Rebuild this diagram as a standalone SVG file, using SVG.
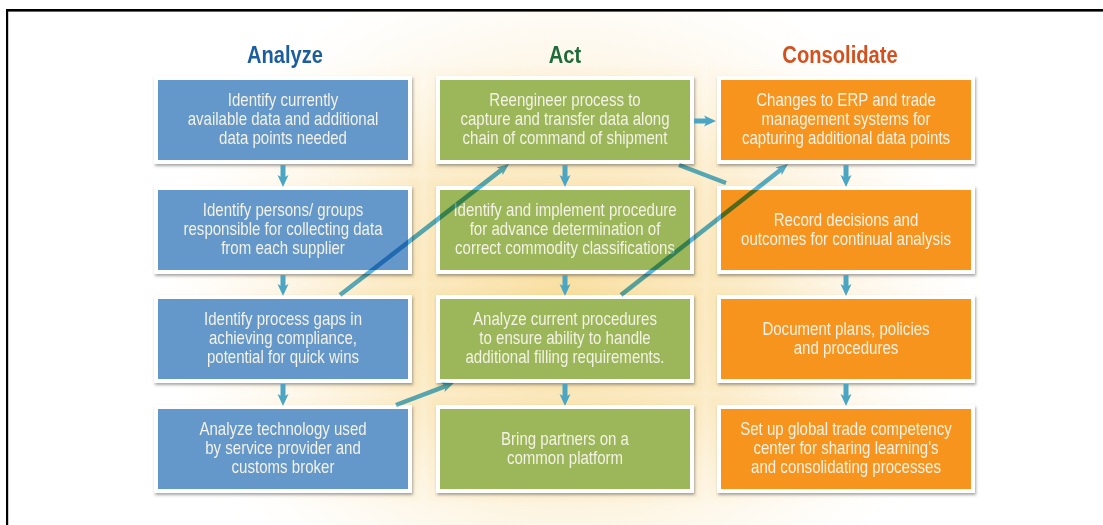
<svg xmlns="http://www.w3.org/2000/svg" width="1103" height="525" viewBox="0 0 1103 525">
  <defs>
    <radialGradient id="glow" gradientUnits="userSpaceOnUse" cx="565" cy="300" r="430" gradientTransform="translate(565 300) scale(1 0.85) translate(-565 -300)">
      <stop offset="0" stop-color="#f7d98f" stop-opacity="0.8"/>
      <stop offset="0.45" stop-color="#f9e0a8" stop-opacity="0.55"/>
      <stop offset="0.8" stop-color="#fdf0d6" stop-opacity="0.2"/>
      <stop offset="1" stop-color="#ffffff" stop-opacity="0"/>
    </radialGradient>
    <filter id="soft" x="-10%" y="-10%" width="120%" height="120%">
      <feGaussianBlur stdDeviation="2.5"/>
    </filter>
    <filter id="shadow" x="-5%" y="-5%" width="115%" height="120%">
      <feDropShadow dx="1" dy="2" stdDeviation="1.5" flood-color="#3a3a3a" flood-opacity="0.45"/>
    </filter>
    <marker id="head" markerUnits="userSpaceOnUse" markerWidth="12" markerHeight="12" viewBox="0 0 12 12" refX="4" refY="6" orient="auto">
      <path d="M0,0.5 L12,6 L0,11.5 L3,6 Z" fill="#4ba6c4"/>
    </marker>
    <marker id="headX" markerUnits="userSpaceOnUse" markerWidth="12" markerHeight="12" viewBox="0 0 12 12" refX="4" refY="6" orient="auto">
      <path d="M0,1 L12,6 L0,11 L3,6 Z" fill="#57b3dd"/>
    </marker>
    <style>
      .frame { fill: #ffffff; filter: url(#shadow); }
      .blue { fill: #6497ca; }
      .green { fill: #9cb65a; }
      .orange { fill: #f7941e; }
      .label { font-family: "Liberation Sans", Arial, sans-serif; font-size: 17.5px; fill: #f4f2e6; text-anchor: middle; }
      .head { font-family: "Liberation Sans", Arial, sans-serif; font-size: 24px; font-weight: bold; text-anchor: middle; }
      .flow { stroke: #4ba6c4; stroke-width: 5; fill: none; marker-end: url(#head); }
      .cross { stroke: #57b3dd; stroke-width: 4.5; fill: none; mix-blend-mode: multiply; }
      .cross.arrow { marker-end: url(#headX); }
    </style>
  </defs>

  <!-- page and warm backdrop -->
  <rect x="0" y="0" width="1103" height="525" fill="#ffffff"/>
  <rect x="8" y="11" width="1095" height="514" fill="url(#glow)"/>
  <g id="panels" filter="url(#soft)" fill="url(#glow)" opacity="0.55">
    <rect x="146" y="68" width="274" height="104"/>
    <rect x="428" y="68" width="274" height="104"/>
    <rect x="709" y="68" width="274" height="104"/>
    <rect x="146" y="178" width="274" height="104"/>
    <rect x="428" y="178" width="274" height="104"/>
    <rect x="709" y="178" width="274" height="104"/>
    <rect x="146" y="287" width="274" height="104"/>
    <rect x="428" y="287" width="274" height="104"/>
    <rect x="709" y="287" width="274" height="104"/>
    <rect x="146" y="397" width="274" height="104"/>
    <rect x="428" y="397" width="274" height="104"/>
    <rect x="709" y="397" width="274" height="104"/>
  </g>
  <rect x="6" y="9" width="1097" height="2.6" fill="#000000"/>
  <rect x="6" y="9" width="2.2" height="516" fill="#000000"/>

  <!-- column headings -->
  <g id="headings">
    <text class="head" transform="translate(285 63) scale(0.84 1)" fill="#1c5d9f">Analyze</text>
    <text class="head" transform="translate(565 63) scale(0.84 1)" fill="#1f6b3a">Act</text>
    <text class="head" transform="translate(840 63) scale(0.84 1)" fill="#d4501f">Consolidate</text>
  </g>

  <!-- Analyze column -->
  <g id="analyze-1">
    <rect class="frame" x="154" y="76" width="258" height="88"/>
    <rect class="blue" x="158" y="80" width="250" height="80"/>
    <g transform="translate(283 0) scale(0.86 1)">
      <text class="label" x="0" y="106.5">Identify currently</text>
      <text class="label" x="0" y="125.5">available data and additional</text>
      <text class="label" x="0" y="144.5">data points needed</text>
    </g>
  </g>
  <g id="analyze-2">
    <rect class="frame" x="154" y="186" width="258" height="88"/>
    <rect class="blue" x="158" y="190" width="250" height="80"/>
    <g transform="translate(283 0) scale(0.86 1)">
      <text class="label" x="0" y="216.5">Identify persons/ groups</text>
      <text class="label" x="0" y="235.5">responsible for collecting data</text>
      <text class="label" x="0" y="254.5">from each supplier</text>
    </g>
  </g>
  <g id="analyze-3">
    <rect class="frame" x="154" y="295" width="258" height="88"/>
    <rect class="blue" x="158" y="299" width="250" height="80"/>
    <g transform="translate(283 0) scale(0.86 1)">
      <text class="label" x="0" y="325.5">Identify process gaps in</text>
      <text class="label" x="0" y="344.5">achieving compliance,</text>
      <text class="label" x="0" y="363.5">potential for quick wins</text>
    </g>
  </g>
  <g id="analyze-4">
    <rect class="frame" x="154" y="405" width="258" height="88"/>
    <rect class="blue" x="158" y="409" width="250" height="80"/>
    <g transform="translate(283 0) scale(0.86 1)">
      <text class="label" x="0" y="435.5">Analyze technology used</text>
      <text class="label" x="0" y="454.5">by service provider and</text>
      <text class="label" x="0" y="473.5">customs broker</text>
    </g>
  </g>

  <!-- Act column -->
  <g id="act-1">
    <rect class="frame" x="436" y="76" width="258" height="88"/>
    <rect class="green" x="440" y="80" width="250" height="80"/>
    <g transform="translate(565 0) scale(0.86 1)">
      <text class="label" x="0" y="106.5">Reengineer process to</text>
      <text class="label" x="0" y="125.5">capture and transfer data along</text>
      <text class="label" x="0" y="144.5">chain of command of shipment</text>
    </g>
  </g>
  <g id="act-2">
    <rect class="frame" x="436" y="186" width="258" height="88"/>
    <rect class="green" x="440" y="190" width="250" height="80"/>
    <g transform="translate(565 0) scale(0.86 1)">
      <text class="label" x="0" y="216.5">Identify and implement procedure</text>
      <text class="label" x="0" y="235.5">for advance determination of</text>
      <text class="label" x="0" y="254.5">correct commodity classifications</text>
    </g>
  </g>
  <g id="act-3">
    <rect class="frame" x="436" y="295" width="258" height="88"/>
    <rect class="green" x="440" y="299" width="250" height="80"/>
    <g transform="translate(565 0) scale(0.86 1)">
      <text class="label" x="0" y="325.5">Analyze current procedures</text>
      <text class="label" x="0" y="344.5">to ensure ability to handle</text>
      <text class="label" x="0" y="363.5">additional filling requirements.</text>
    </g>
  </g>
  <g id="act-4">
    <rect class="frame" x="436" y="405" width="258" height="88"/>
    <rect class="green" x="440" y="409" width="250" height="80"/>
    <g transform="translate(565 0) scale(0.86 1)">
      <text class="label" x="0" y="445">Bring partners on a</text>
      <text class="label" x="0" y="464">common platform</text>
    </g>
  </g>

  <!-- Consolidate column -->
  <g id="consolidate-1">
    <rect class="frame" x="717" y="76" width="258" height="88"/>
    <rect class="orange" x="721" y="80" width="250" height="80"/>
    <g transform="translate(846 0) scale(0.86 1)">
      <text class="label" x="0" y="106.5">Changes to ERP and trade</text>
      <text class="label" x="0" y="125.5">management systems for</text>
      <text class="label" x="0" y="144.5">capturing additional data points</text>
    </g>
  </g>
  <g id="consolidate-2">
    <rect class="frame" x="717" y="186" width="258" height="88"/>
    <rect class="orange" x="721" y="190" width="250" height="80"/>
    <g transform="translate(846 0) scale(0.86 1)">
      <text class="label" x="0" y="226">Record decisions and</text>
      <text class="label" x="0" y="245">outcomes for continual analysis</text>
    </g>
  </g>
  <g id="consolidate-3">
    <rect class="frame" x="717" y="295" width="258" height="88"/>
    <rect class="orange" x="721" y="299" width="250" height="80"/>
    <g transform="translate(846 0) scale(0.86 1)">
      <text class="label" x="0" y="335">Document plans, policies</text>
      <text class="label" x="0" y="354">and procedures</text>
    </g>
  </g>
  <g id="consolidate-4">
    <rect class="frame" x="717" y="405" width="258" height="88"/>
    <rect class="orange" x="721" y="409" width="250" height="80"/>
    <g transform="translate(846 0) scale(0.86 1)">
      <text class="label" x="0" y="435.5">Set up global trade competency</text>
      <text class="label" x="0" y="454.5">center for sharing learning's</text>
      <text class="label" x="0" y="473.5">and consolidating processes</text>
    </g>
  </g>

  <!-- connectors -->
  <g id="connectors">
    <!-- steps down each column -->
    <line class="flow" x1="283" y1="165" x2="283" y2="179"/>
    <line class="flow" x1="283" y1="275" x2="283" y2="288"/>
    <line class="flow" x1="283" y1="384" x2="283" y2="398"/>
    <line class="flow" x1="565" y1="165" x2="565" y2="179"/>
    <line class="flow" x1="565" y1="275" x2="565" y2="288"/>
    <line class="flow" x1="565" y1="384" x2="565" y2="398"/>
    <line class="flow" x1="846" y1="165" x2="846" y2="179"/>
    <line class="flow" x1="846" y1="275" x2="846" y2="288"/>
    <line class="flow" x1="846" y1="384" x2="846" y2="398"/>
    <!-- across the top row -->
    <line class="flow" x1="694" y1="121" x2="708" y2="121"/>
    <!-- cross-column links -->
    <line class="cross arrow" x1="340" y1="295" x2="502.7" y2="168.9"/>
    <line class="cross arrow" x1="621" y1="295" x2="781.7" y2="168.9"/>
    <line class="cross arrow" x1="396" y1="405" x2="446.5" y2="385.8"/>
    <line class="cross" x1="679" y1="165" x2="726" y2="183"/>
  </g>
</svg>
